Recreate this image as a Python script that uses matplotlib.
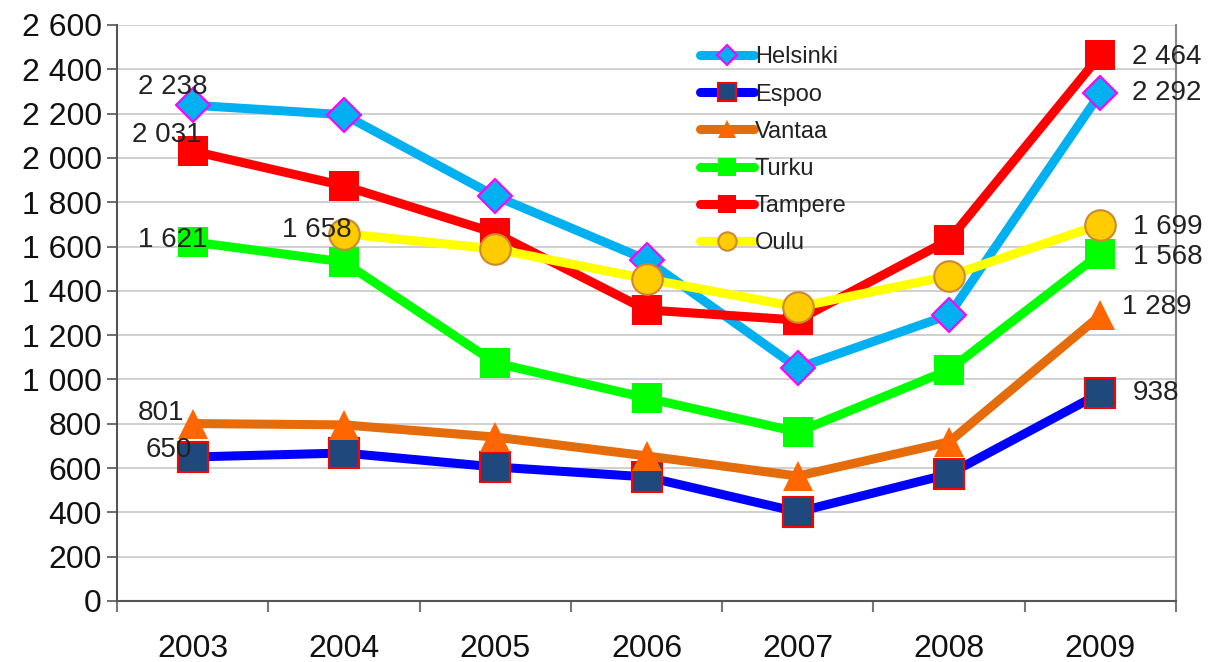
import matplotlib
matplotlib.use("Agg")
import matplotlib.pyplot as plt
import numpy as np

years = ["2003", "2004", "2005", "2006", "2007", "2008", "2009"]
helsinki = [2238, 2195, 1828, 1540, 1052, 1291, 2292]
espoo = [650, 668, 605, 560, 402, 573, 938]
vantaa = [801, 795, 740, 655, 564, 718, 1289]
turku = [1621, 1530, 1075, 916, 763, 1043, 1568]
tampere = [2031, 1874, 1661, 1314, 1268, 1630, 2464]
oulu = [np.nan, 1658, 1589, 1454, 1327, 1467, 1699]
yticks = list(range(0, 2601, 200))

plt.rcParams['font.family'] = ['Liberation Sans', 'DejaVu Sans']

fig = plt.figure(figsize=(12.08, 6.62), dpi=100)
ax = fig.add_axes([117/1208, 61/662, (1176-117)/1208, (601-25)/662])
x = np.arange(len(years))

series = [
    ("Helsinki", helsinki, dict(color="#00B0F0", marker="D", ms=17, mfc="#00B0F0", mec="#FF00FF", mew=1.5)),
    ("Espoo", espoo, dict(color="#0000FF", marker="s", ms=21, mfc="#1F497D", mec="#FF0000", mew=1.5)),
    ("Vantaa", vantaa, dict(color="#E46C0A", marker="^", ms=22, mfc="#FF6600", mec="#FF6600", mew=0)),
    ("Turku", turku, dict(color="#00FF00", marker="s", ms=22, mfc="#00FF00", mec="#00FF00", mew=0)),
    ("Tampere", tampere, dict(color="#FF0000", marker="s", ms=22, mfc="#FF0000", mec="#FF0000", mew=0)),
    ("Oulu", oulu, dict(color="#FFFF00", marker="o", ms=22, mfc="#FFCC00", mec="#CC8833", mew=1.5)),
]
for name, vals, st in series:
    ax.plot(x, vals, lw=6.5, label=name, solid_capstyle="round", **st)

def fmt(v):
    return f"{v:,}".replace(",", " ")

# first-point labels (offsets in pixels)
first_labels = [
    (0, helsinki[0], -20, 18),
    (0, tampere[0], -26, 16),
    (0, turku[0], -20, 2),
    (0, vantaa[0], -32, 11),
    (0, espoo[0], -24, 7),
    (1, oulu[1], -27, 4),
]
for xi, v, dx, dy in first_labels:
    ax.annotate(fmt(v), (xi, v), xytext=(dx, dy), textcoords="offset pixels",
                ha="center", va="center", fontsize=20, color="#222222")

last_labels = [
    (tampere[6], 32, -2),
    (helsinki[6], 32, 0),
    (oulu[6], 33, -2),
    (turku[6], 33, -3),
    (vantaa[6], 22, 8),
    (espoo[6], 32, 0),
]
for v, dx, dy in last_labels:
    ax.annotate(fmt(v), (6, v), xytext=(dx, dy), textcoords="offset pixels",
                ha="left", va="center", fontsize=20, color="#222222")

ax.set_xlim(-0.5, 6.5)
ax.set_ylim(0, 2600)
ax.set_yticks(yticks)
ax.set_yticklabels([fmt(v) for v in yticks], fontsize=23, color="#111111")
ax.set_xticks(x)
ax.set_xticklabels(years, fontsize=23, color="#111111")
ax.set_xticks(np.arange(-0.5, 7, 1), minor=True)
ax.tick_params(axis="x", which="major", length=0, pad=24)
ax.tick_params(axis="x", which="minor", length=8, color="#777777", width=1.5)
ax.tick_params(axis="y", length=7, color="#555555", width=1.2, pad=4)
ax.grid(axis="y", color="#C8C8C8", lw=1.2)
ax.set_axisbelow(True)
for s in ["left", "bottom"]:
    ax.spines[s].set_color("#555555")
    ax.spines[s].set_linewidth(1.5)
ax.spines["right"].set_color("#888888")
ax.spines["right"].set_linewidth(1.5)
ax.spines["top"].set_visible(False)

leg = ax.legend(loc="upper left", bbox_to_anchor=((691-117)/1059, (601-37)/576),
                frameon=False, fontsize=17, markerscale=0.6, handlelength=2.25,
                handletextpad=0.05, labelspacing=0.64, borderaxespad=0)
for t in leg.get_texts():
    t.set_color("#222222")

fig.savefig("out.png", dpi=100)
